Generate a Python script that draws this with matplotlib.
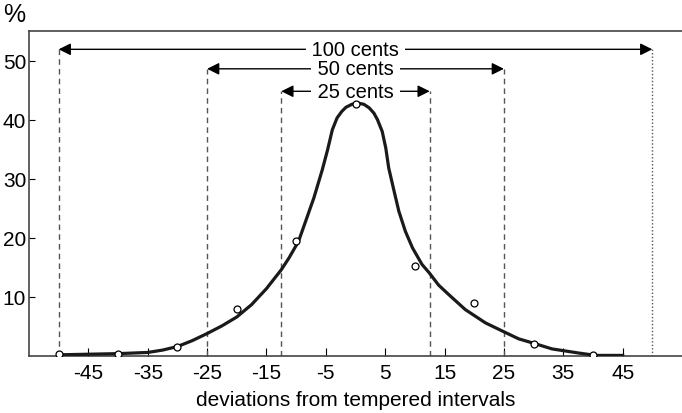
import numpy as np
import matplotlib.pyplot as plt

plt.rcParams['font.family'] = ['Liberation Sans', 'DejaVu Sans']
plt.rcParams['axes.unicode_minus'] = False

# measured points (open circles)
pt_x = [-50, -40, -30, -20, -10, 0, 10, 20, 30, 40]
pt_y = [0.3, 0.4, 1.6, 7.9, 19.4, 42.7, 15.3, 9.0, 2.1, 0.1]

# fitted curve
curve_x = [-50, -45, -40, -35, -32.5, -30, -27.5, -25, -22.5, -20, -17.5, -15,
           -12.5, -11.2, -9.6, -8.4, -7.0, -5.6, -4.7, -3.9, -3.1, -2.3, -1.6,
           -0.6, 0.4, 1.4, 2.3, 3.1, 3.7, 4.5, 5.1, 5.6, 6.5, 7.3, 8.4, 9.6,
           11.2, 12.4, 14.0, 15.7, 18.5, 21.9, 25.2, 27.5, 30.2, 33.1, 37.6,
           40.5, 45]
curve_y = [0.2, 0.3, 0.4, 0.6, 1.0, 1.6, 2.6, 3.8, 5.1, 6.6, 8.7, 11.4,
           14.6, 16.6, 19.4, 22.8, 26.8, 31.5, 34.9, 38.3, 40.3, 41.4, 42.1,
           42.6, 42.8, 42.6, 42.0, 41.1, 40.0, 38.0, 35.2, 31.8, 27.9, 24.5, 21.1, 18.3,
           15.5, 14.1, 12.0, 10.4, 7.85, 5.6, 4.0, 2.9, 2.1, 1.2, 0.5,
           0.1, 0.1]

# ranges: (half width, arrow height, label)
ranges = [(50, 51.9, '100 cents'), (25, 48.6, '50 cents'), (12.5, 44.8, '25 cents')]

xticks = [-45, -35, -25, -15, -5, 5, 15, 25, 35, 45]
yticks = [10, 20, 30, 40, 50]

fig = plt.figure(figsize=(6.82, 4.14), dpi=100)
ax = fig.add_axes([29 / 682, 57 / 414, 653 / 682, 325 / 414])

# vertical guide lines + arrows
for half, h, lab in ranges:
    ax.plot([-half, -half], [0, h], color='#555555', lw=1, ls=(0, (4, 3)))
    if half == 50:
        ax.plot([half, half], [0, h], color='#555555', lw=1, ls=(0, (1, 1.5)))
    else:
        ax.plot([half, half], [0, h], color='#555555', lw=1, ls=(0, (4, 3)))
    ax.annotate('', xy=(-half, h), xytext=(half, h),
                arrowprops=dict(arrowstyle='<|-|>', color='black', lw=1,
                                mutation_scale=18, shrinkA=0, shrinkB=0))
    ax.text(0, h, ' ' + lab + ' ', ha='center', va='center', fontsize=14.5,
            zorder=3, bbox=dict(facecolor='white', edgecolor='none', pad=0.5))

ax.plot(curve_x, curve_y, color='#1a1a1a', lw=2.3, solid_joinstyle='round', zorder=4)
ax.plot(pt_x, pt_y, 'o', ms=5, mfc='white', mec='black', mew=0.9, zorder=5)

ax.set_xlim(-55, 55)
ax.set_ylim(0, 55)
ax.set_xticks(xticks)
ax.set_yticks(yticks)
ax.tick_params(axis='x', direction='in', length=6, pad=5, labelsize=15)
ax.tick_params(axis='y', direction='in', length=4, pad=2, labelsize=15)
ax.spines['right'].set_visible(False)
for s in ['left', 'top', 'bottom']:
    ax.spines[s].set_color('#444444')
    ax.spines[s].set_linewidth(1.2)

ax.set_xlabel('deviations from tempered intervals', fontsize=15, labelpad=6)
fig.text(14.5 / 682, 1 - 15 / 414, '%', ha='center', va='center', fontsize=18)

plt.savefig('out.png', dpi=100)
